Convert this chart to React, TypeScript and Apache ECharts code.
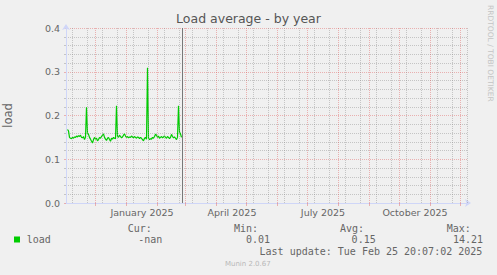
import React, { useEffect, useRef } from "react";
import * as echarts from "echarts";

// ---- data (days relative to 2025-01-01, one sample per day) ----
const firstDay = -59;
const loadValues: number[] = [
  0.168, 0.165, 0.150, 0.148, 0.147, 0.150, 0.148, 0.151, 0.150, 0.153,
  0.151, 0.154, 0.152, 0.155, 0.150, 0.149, 0.152, 0.145, 0.150, 0.219,
  0.160, 0.157, 0.150, 0.146, 0.141, 0.137, 0.145, 0.150, 0.146, 0.148,
  0.142, 0.145, 0.150, 0.148, 0.152, 0.155, 0.158, 0.150, 0.146, 0.143,
  0.148, 0.150, 0.145, 0.141, 0.148, 0.146, 0.150, 0.148, 0.147, 0.222,
  0.152, 0.150, 0.155, 0.152, 0.149, 0.151, 0.155, 0.158, 0.153, 0.150,
  0.152, 0.149, 0.151, 0.150, 0.153, 0.151, 0.149, 0.152, 0.150, 0.148,
  0.151, 0.150, 0.147, 0.150, 0.148, 0.145, 0.142, 0.148, 0.150, 0.146,
  0.309, 0.148, 0.145, 0.147, 0.146, 0.150, 0.148, 0.152, 0.157, 0.155,
  0.150, 0.153, 0.148, 0.150, 0.152, 0.149, 0.151, 0.153, 0.150, 0.148,
  0.152, 0.150, 0.147, 0.150, 0.157, 0.152, 0.149, 0.151, 0.148, 0.145,
  0.150, 0.222, 0.162, 0.158, 0.150,
];
const nowDay = 55.84; // Tue Feb 25 20:07:02 2025
const yTicks = [0, 0.1, 0.2, 0.3, 0.4];
const labelMonths = [0, 3, 6, 9]; // Jan, Apr, Jul, Oct 2025
const monthNames = [
  "January", "February", "March", "April", "May", "June",
  "July", "August", "September", "October", "November", "December",
];
const legendHeads = ["Cur:", "Min:", "Avg:", "Max:"];
const legendVals = ["-nan", "0.01", "0.15", "14.21"];
const lastUpdate = "Last update: Tue Feb 25 20:07:02 2025";

const X_MIN = -60.5;
const X_MAX = 341.5;
const BASE = Date.UTC(2025, 0, 1);
const DAY = 86400000;
const dayOf = (y: number, m: number, d: number) => (Date.UTC(y, m, d) - BASE) / DAY;

const FONT = "DejaVu Sans";
const MONO = "DejaVu Sans Mono";
const TXT = "#666666";
const MGRID = "rgba(222,79,79,0.4)";
const GRID = "rgba(143,143,143,0.45)";
const AXIS = "#cfd6f8";
const GREEN = "#00cc00";

export default function App() {
  const ref = useRef<HTMLDivElement>(null);
  useEffect(() => {
    if (!ref.current) return;
    const chart = echarts.init(ref.current, null, { renderer: "svg" });

    const monthStarts: number[] = [];
    const minorDays: number[] = [];
    for (let k = -3; k < 14; k++) {
      const y = 2025 + Math.floor(k / 12);
      const m = ((k % 12) + 12) % 12;
      const s = dayOf(y, m, 1);
      if (s > X_MIN && s < X_MAX) monthStarts.push(s);
      [8, 23].forEach((d) => {
        const v = dayOf(y, m, d);
        if (v > X_MIN && v < X_MAX) minorDays.push(v);
      });
    }
    const labelDays = labelMonths.map((m) => dayOf(2025, m, 1) + 15.5);
    const seriesData = loadValues.map((v, i) => [firstDay + i, v]);

    const gridSeries = (days: number[], color: string, z: number) => ({
      type: "line",
      z,
      data: [],
      silent: true,
      markLine: {
        silent: true,
        symbol: "none",
        animation: false,
        label: { show: false },
        lineStyle: { color, type: [1, 1], width: 1 },
        emphasis: { disabled: true },
        data: days.map((d) => ({ xAxis: d })),
      },
    });

    const rx = (t: string, x: number, y: number, align: string, font = MONO, size = 10, color = TXT) => ({
      type: "text",
      x,
      y,
      silent: true,
      style: { text: t, fill: color, font: `${size}px "${font}"`, textAlign: align, textVerticalAlign: "middle" },
    });

    const headX = [127.7, 234, 340, 446.7];
    const valRight = [162.3, 270, 375.7, 483];

    chart.setOption({
      animation: false,
      backgroundColor: "#f0f0f0",
      title: {
        text: "Load average - by year",
        left: "center",
        top: 12,
        padding: 0,
        textStyle: { fontFamily: FONT, fontSize: 12.5, fontWeight: "normal", color: "#555555" },
      },
      grid: { left: 66, top: 28, width: 402, height: 175, containLabel: false, outerBoundsMode: "none" },
      xAxis: {
        type: "value",
        min: X_MIN,
        max: X_MAX,
        axisLine: {
          show: true,
          onZero: false,
          lineStyle: { color: AXIS, width: 1 },
          symbol: ["none", "arrow"],
          symbolSize: [6, 6],
          symbolOffset: [0, 3],
        },
        axisTick: { show: true, customValues: monthStarts, length: 3, lineStyle: { color: MGRID } },
        axisLabel: {
          customValues: labelDays,
          formatter: (v: number) => {
            const d = new Date(BASE + v * DAY);
            return `${monthNames[d.getUTCMonth()]} ${d.getUTCFullYear()}`;
          },
          color: TXT,
          fontFamily: FONT,
          fontSize: 9.5,
          margin: 4,
        },
        splitLine: { show: false },
      },
      yAxis: {
        type: "value",
        min: yTicks[0],
        max: yTicks[yTicks.length - 1],
        interval: 0.1,
        name: "load",
        nameLocation: "middle",
        nameGap: 52,
        nameRotate: 90,
        nameTextStyle: { color: TXT, fontFamily: FONT, fontSize: 11.5 },
        axisLine: {
          show: true,
          onZero: false,
          lineStyle: { color: AXIS, width: 1 },
          symbol: ["none", "arrow"],
          symbolSize: [6, 6],
          symbolOffset: [0, 4],
        },
        axisTick: { show: true, length: 2, lineStyle: { color: MGRID } },
        minorTick: { show: true, splitNumber: 5, length: 2, lineStyle: { color: GRID } },
        axisLabel: {
          formatter: (v: number) => v.toFixed(1),
          color: TXT,
          fontFamily: FONT,
          fontSize: 9.5,
          margin: 6,
        },
        splitLine: { show: true, lineStyle: { color: MGRID, type: [1, 1], width: 1 } },
        minorSplitLine: { show: true, lineStyle: { color: GRID, type: [1, 1], width: 1 } },
      },
      series: [
        gridSeries(minorDays, GRID, 1),
        gridSeries(monthStarts, MGRID, 1),
        {
          type: "line",
          z: 3,
          data: seriesData,
          showSymbol: false,
          symbol: "none",
          lineStyle: { color: GREEN, width: 1.2 },
          silent: true,
          markLine: {
            silent: true,
            symbol: "none",
            animation: false,
            label: { show: false },
            lineStyle: { color: "#777777", type: "solid", width: 1 },
            data: [{ xAxis: nowDay }],
          },
        },
      ],
      graphic: [
        {
          type: "text",
          x: 490,
          y: 5,
          rotation: -Math.PI / 2,
          silent: true,
          style: {
            text: "RRDTOOL / TOBI OETIKER",
            fill: "#c4c4c4",
            font: `7.5px "${FONT}"`,
            textAlign: "left",
            textVerticalAlign: "middle",
          },
        },
        { type: "rect", shape: { x: 14, y: 236.5, width: 6, height: 6 }, style: { fill: GREEN }, silent: true },
        rx("load", 26.7, 239.3, "left"),
        ...legendHeads.map((h, i) => rx(h, headX[i], 228.3, "left")),
        ...legendVals.map((v, i) => rx(v, valRight[i], 239.3, "right")),
        rx(lastUpdate, 482.3, 251, "right"),
        rx("Munin 2.0.67", 247.8, 264.3, "center", FONT, 7, "#b8b8b8"),
      ],
    });
    return () => chart.dispose();
  }, []);
  return <div ref={ref} style={{ position: "fixed", left: 0, top: 0, width: 497, height: 275 }} />;
}
